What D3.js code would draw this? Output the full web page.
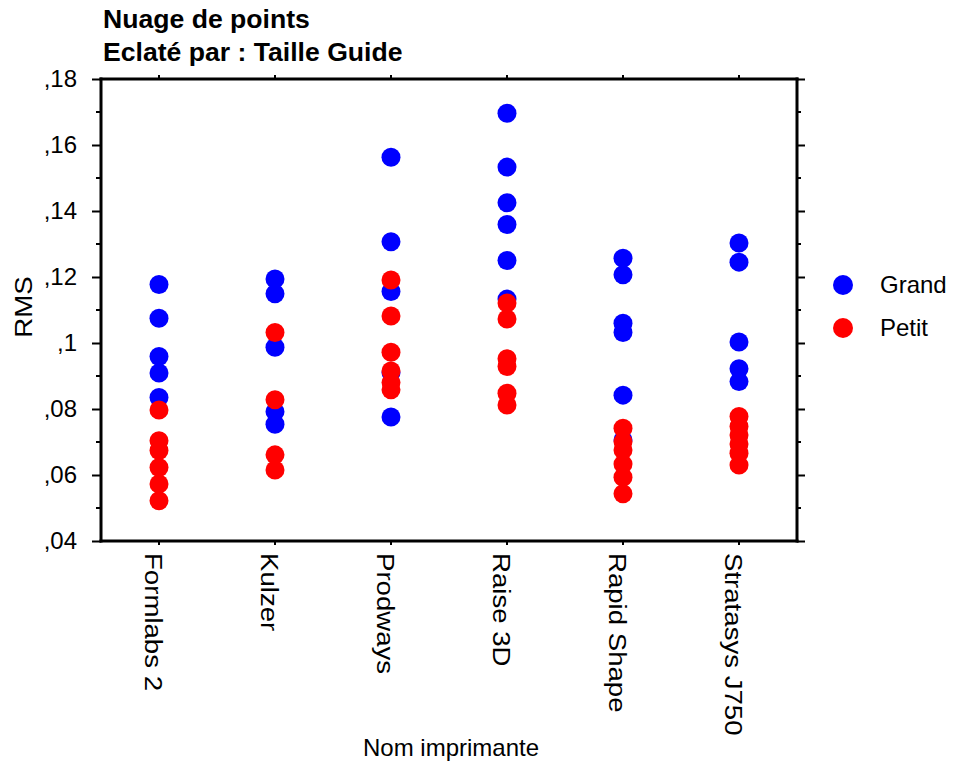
<!DOCTYPE html>
<html lang="fr">
  <head>
    <meta charset="utf-8">
    <title>Nuage de points</title>
    <script type="text/javascript" src="https://d3js.org/d3.v7.min.js"></script>
    <style>
      body { margin: 0; background: #fff; }
      text { font-family: "Liberation Sans", Arial, sans-serif; fill: #000; }
    </style>
  </head>
  <body>
    <script type="text/javascript">
    var w = 958;
    var h = 769;

    var printers = ["Formlabs 2", "Kulzer", "Prodways", "Raise 3D", "Rapid Shape", "Stratasys J750"];
    var yTicks = [0.04, 0.06, 0.08, 0.10, 0.12, 0.14, 0.16, 0.18];

    // RMS values per printer
    var grand = [
      [0.1177, 0.1075, 0.0959, 0.0909, 0.0835],
      [0.1194, 0.1149, 0.0987, 0.0792, 0.0754],
      [0.1563, 0.1307, 0.1156, 0.0910, 0.0776],
      [0.1696, 0.1533, 0.1425, 0.1359, 0.1250, 0.1133],
      [0.1257, 0.1207, 0.1060, 0.1032, 0.0842, 0.0706],
      [0.1303, 0.1245, 0.1003, 0.0922, 0.0883]
    ];
    var petit = [
      [0.0797, 0.0704, 0.0674, 0.0623, 0.0573, 0.0522],
      [0.1032, 0.0828, 0.0661, 0.0615],
      [0.1191, 0.1082, 0.0972, 0.0915, 0.0880, 0.0858],
      [0.1121, 0.1073, 0.0952, 0.0929, 0.0848, 0.0812],
      [0.0742, 0.0701, 0.0676, 0.0633, 0.0593, 0.0543],
      [0.0777, 0.0747, 0.0721, 0.0694, 0.0666, 0.0630]
    ];
    var seriesNames = ["Grand", "Petit"];
    var seriesColors = ["#0000ff", "#ff0000"];

    var pLeft = 101, pRight = 797, pTop = 79, pBottom = 541;

    var svg = d3.select("body").append("svg").attr("width", w).attr("height", h);

    var xscale = d3.scaleBand().domain(printers).range([pLeft, pRight]);
    var yscale = d3.scaleLinear().domain([0.04, 0.18]).range([pBottom, pTop]);

    var fmt = function(d) {
      var s = d3.format(".2f")(d).replace(/^0/, "").replace(".", ",");
      if (s == ",10") s = ",1";
      return s;
    };

    // minor ticks every 0.01
    var minor = [0.05, 0.07, 0.09, 0.11, 0.13, 0.15, 0.17];

    var gl = svg.append("g").attr("transform", "translate(" + pLeft + ",0)")
      .call(d3.axisLeft(yscale).tickValues(yTicks).tickFormat(fmt).tickSize(9).tickPadding(15));
    gl.selectAll("text").style("font-size", "24px").style("font-family", "Liberation Sans, Arial, sans-serif");

    var gr = svg.append("g").attr("transform", "translate(" + pRight + ",0)")
      .call(d3.axisRight(yscale).tickValues(yTicks).tickFormat("").tickSize(8));

    [gl, gr].forEach(function(g, k) {
      g.selectAll(".minor").data(minor).enter().append("line")
        .attr("x1", 0).attr("x2", k == 0 ? -5 : 4)
        .attr("y1", function(d) { return yscale(d); })
        .attr("y2", function(d) { return yscale(d); })
        .attr("stroke", "#000").attr("stroke-width", 2);
    });

    var gb = svg.append("g").attr("transform", "translate(0," + pBottom + ")")
      .call(d3.axisBottom(xscale).tickSize(4).tickFormat(""));
    var gt = svg.append("g").attr("transform", "translate(0," + pTop + ")")
      .call(d3.axisTop(xscale).tickSize(4).tickFormat(""));

    [gl, gr, gb, gt].forEach(function(g) {
      g.select(".domain").attr("stroke", "#000").attr("stroke-width", 3)
        .attr("d", (g === gl || g === gr) ? "M0," + (pBottom + 1.5) + "V" + (pTop - 1.5) : "M" + (pLeft - 1.5) + ",0H" + (pRight + 1.5));
      g.selectAll(".tick line").attr("stroke", "#000").attr("stroke-width", 2);
    });

    // rotated category labels (the reference text is a little stretched along its length)
    svg.append("g").selectAll("text").data(printers).enter().append("text")
      .attr("transform", function(d) {
        return "translate(" + (xscale(d) + xscale.bandwidth() / 2) + "," + (pBottom + 12) + ") rotate(90) scale(1.15,1)";
      })
      .attr("text-anchor", "start")
      .attr("dy", "0.58em")
      .style("font-size", "24px")
      .text(function(d) { return d; });

    // points: Grand first, Petit on top
    [grand, petit].forEach(function(series, s) {
      var pts = [];
      series.forEach(function(vals, i) {
        vals.forEach(function(v) { pts.push([printers[i], v]); });
      });
      svg.append("g").selectAll("circle").data(pts).enter().append("circle")
        .attr("cx", function(d) { return xscale(d[0]) + xscale.bandwidth() / 2; })
        .attr("cy", function(d) { return yscale(d[1]); })
        .attr("r", 9.5)
        .attr("fill", seriesColors[s]);
    });

    // titles
    svg.append("text").attr("x", 103).attr("y", 28).style("font-size", "26.6px").style("font-weight", "bold")
      .text("Nuage de points");
    svg.append("text").attr("x", 103).attr("y", 61).style("font-size", "26.6px").style("font-weight", "bold")
      .text("Eclaté par : Taille Guide");

    svg.append("text").attr("transform", "translate(32,307) rotate(-90) scale(1.15,1)")
      .attr("text-anchor", "middle").style("font-size", "24px").text("RMS");
    svg.append("text").attr("x", 451).attr("y", 756)
      .attr("text-anchor", "middle").style("font-size", "24px").text("Nom imprimante");

    // legend
    var lg = svg.append("g").selectAll("g").data(seriesNames).enter().append("g")
      .attr("transform", function(d, i) { return "translate(843," + (285 + i * 43) + ")"; });
    lg.append("circle").attr("r", 10).attr("fill", function(d, i) { return seriesColors[i]; });
    lg.append("text").attr("x", 37).attr("dy", "0.35em").style("font-size", "24px")
      .text(function(d) { return d; });
    </script>
  </body>
</html>
